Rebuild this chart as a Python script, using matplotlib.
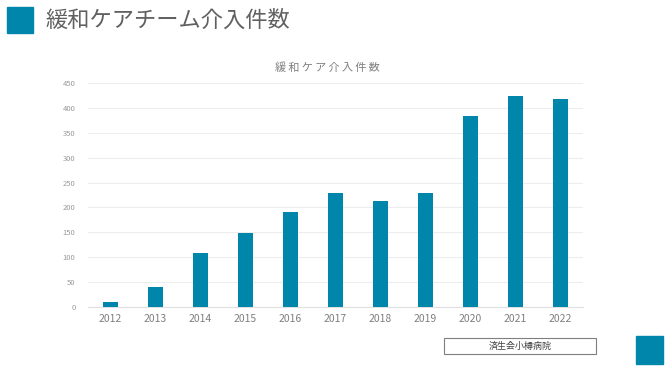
import matplotlib.pyplot as plt
from matplotlib.patches import Rectangle

plt.rcParams['font.family'] = ['Noto Sans CJK JP', 'DejaVu Sans']

years = ['2012', '2013', '2014', '2015', '2016', '2017', '2018', '2019', '2020', '2021', '2022']
counts = [10, 39, 109, 149, 190, 229, 212, 230, 384, 425, 419]
y_ticks = [0, 50, 100, 150, 200, 250, 300, 350, 400, 450]

slide_title = '緩和ケアチーム介入件数'
chart_title = '緩和ケア介入件数'
footer = '済生会小樽病院'

teal = '#0086AA'
grey = '#606060'

fig = plt.figure(figsize=(6.7, 3.7), dpi=100)
fig.patch.set_facecolor('white')

# slide decorations
fig.patches.append(Rectangle((7 / 670, 1 - 33 / 370), 26 / 670, 26 / 370,
                             transform=fig.transFigure, color=teal))
fig.text(45 / 670, 1 - 20 / 370, slide_title, fontsize=16, color=grey, va='center', ha='left')
fig.patches.append(Rectangle((636 / 670, 1 - 364 / 370), 27 / 670, 28 / 370,
                             transform=fig.transFigure, color=teal))
fig.patches.append(Rectangle((444 / 670, 1 - 354 / 370), 152 / 670, 16 / 370,
                             transform=fig.transFigure, facecolor='white',
                             edgecolor='#7f7f7f', linewidth=0.8))
fig.text(520 / 670, 1 - 346 / 370, footer, fontsize=6.5, color='#404040', ha='center', va='center')

# chart
ax = fig.add_axes([88 / 670, 1 - 306.7 / 370, 495 / 670, 223.4 / 370])
x = list(range(len(years)))
ax.bar(x, counts, width=0.32, color=teal, zorder=3)
ax.set_xlim(-0.5, len(years) - 0.5)
ax.set_ylim(0, 450)
ax.set_yticks(y_ticks)
ax.set_yticklabels([str(v) for v in y_ticks])
ax.set_xticks(x)
ax.set_xticklabels(years)
ax.tick_params(axis='y', length=0, labelsize=5.5, labelcolor='#999999', pad=9)
ax.tick_params(axis='x', length=0, labelsize=7.5, labelcolor='#7f7f7f', pad=5)
ax.grid(axis='y', color='#ededed', linewidth=0.8, zorder=0)
for s in ['top', 'right', 'left']:
    ax.spines[s].set_visible(False)
ax.spines['bottom'].set_color('#e0e0e0')
ax.spines['bottom'].set_linewidth(0.8)

# letter-spaced chart title
fig.text(327 / 670, 1 - 68 / 370, '\u2009'.join(chart_title), fontsize=8, color='#7f7f7f',
         ha='center', va='center', family=['Noto Sans CJK JP', 'DejaVu Sans'])

fig.savefig('out.png', dpi=100)
